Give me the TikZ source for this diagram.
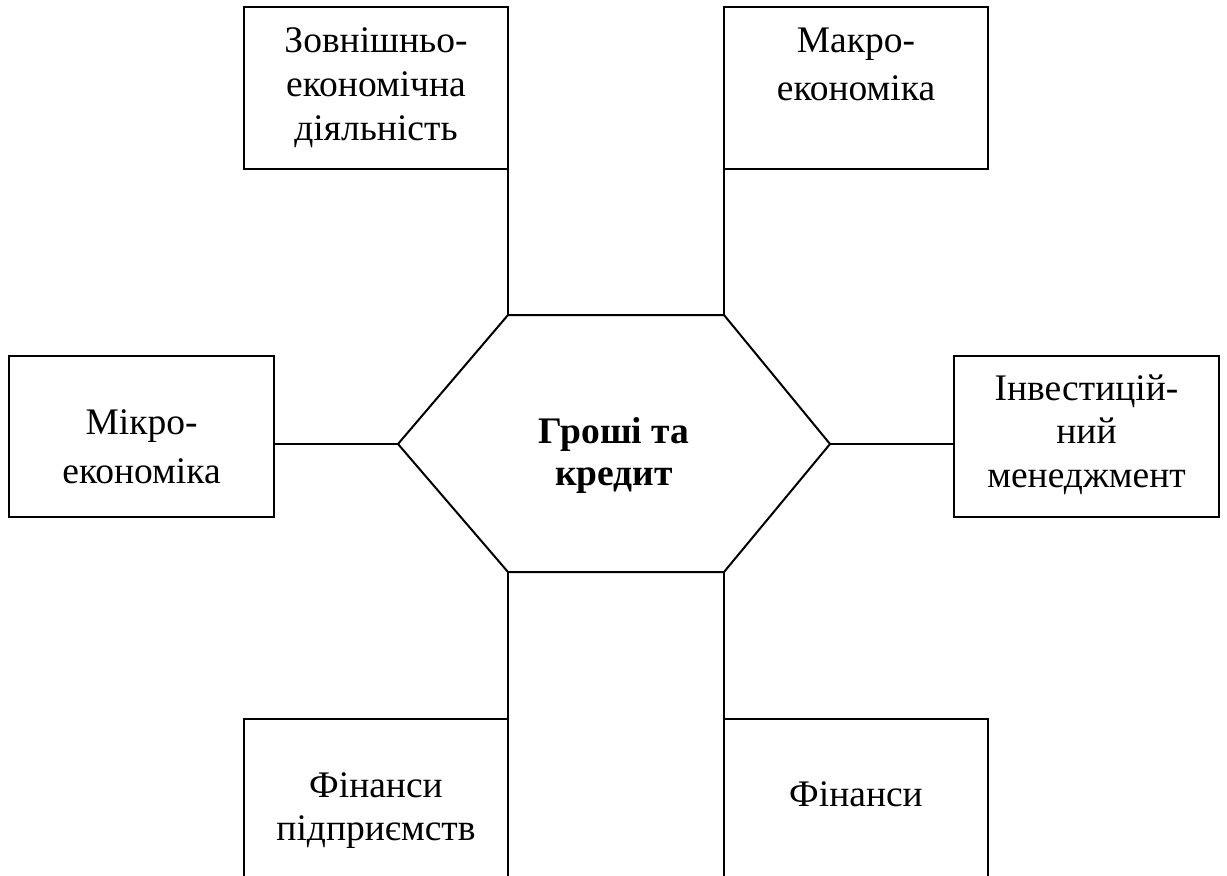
\documentclass[tikz,border=0pt]{standalone}
\usepackage{fontspec}
\setmainfont{Liberation Serif}
\begin{document}
\begin{tikzpicture}[x=1pt,y=-1pt,line width=2pt,
  box/.style={draw,line width=2pt,inner sep=0pt,outer sep=0pt,minimum width=264,minimum height=162},
  lbl/.style={anchor=base,align=center,inner sep=0pt,font=\fontsize{37.5}{44}\selectfont},
  hexlbl/.style={anchor=base,align=center,inner sep=0pt,font=\fontsize{37.5}{42}\selectfont\bfseries}]
\path[use as bounding box,clip] (0,0) rectangle (1227,876);
% boxes
\node[box] (tl) at (376,88) {};
\node[box] (tr) at (856,88) {};
\node[box,minimum width=265,minimum height=161] (ml) at (141.5,436.5) {};
\node[box,minimum width=265,minimum height=161] (mr) at (1086.5,436.5) {};
\node[box,minimum height=200] (bl) at (376,819) {};
\node[box,minimum height=200] (br) at (856,819) {};
% hexagon
\coordinate (h1) at (508,315);
\coordinate (h2) at (724,315);
\coordinate (h3) at (830,444);
\coordinate (h4) at (724,572);
\coordinate (h5) at (508,572);
\coordinate (h6) at (398,444);
\draw[line join=miter] (h1) -- (h2) -- (h3) -- (h4) -- (h5) -- (h6) -- cycle;
\node[hexlbl] (hub) at (614,485) {Гроші та\\кредит};
% labels
\node[lbl] (ttl) at (376,140) {Зовнішньо-\\економічна\\діяльність};
\node[lbl,font=\fontsize{37.5}{48}\selectfont] (ttr) at (856,100) {Макро-\\економіка};
\node[lbl,font=\fontsize{37.5}{49}\selectfont] (tml) at (141.5,483) {Мікро-\\економіка};
\node[lbl,font=\fontsize{37.5}{43.5}\selectfont] (tmr) at (1086.5,487) {Інвестицій-\\ний\\менеджмент};
\node[lbl,font=\fontsize{37.5}{43}\selectfont] (tbl) at (376,840) {Фінанси\\підприємств};
\node[lbl] (tbr) at (856,806) {Фінанси};
% connectors
\draw (tl.south east) -- (h1);
\draw (tr.south west) -- (h2);
\draw (h6 -| ml.east) -- (h6);
\draw (h3) -- (h3 -| mr.west);
\draw (h5) -- (bl.north east);
\draw (h4) -- (br.north west);
\end{tikzpicture}
\end{document}
